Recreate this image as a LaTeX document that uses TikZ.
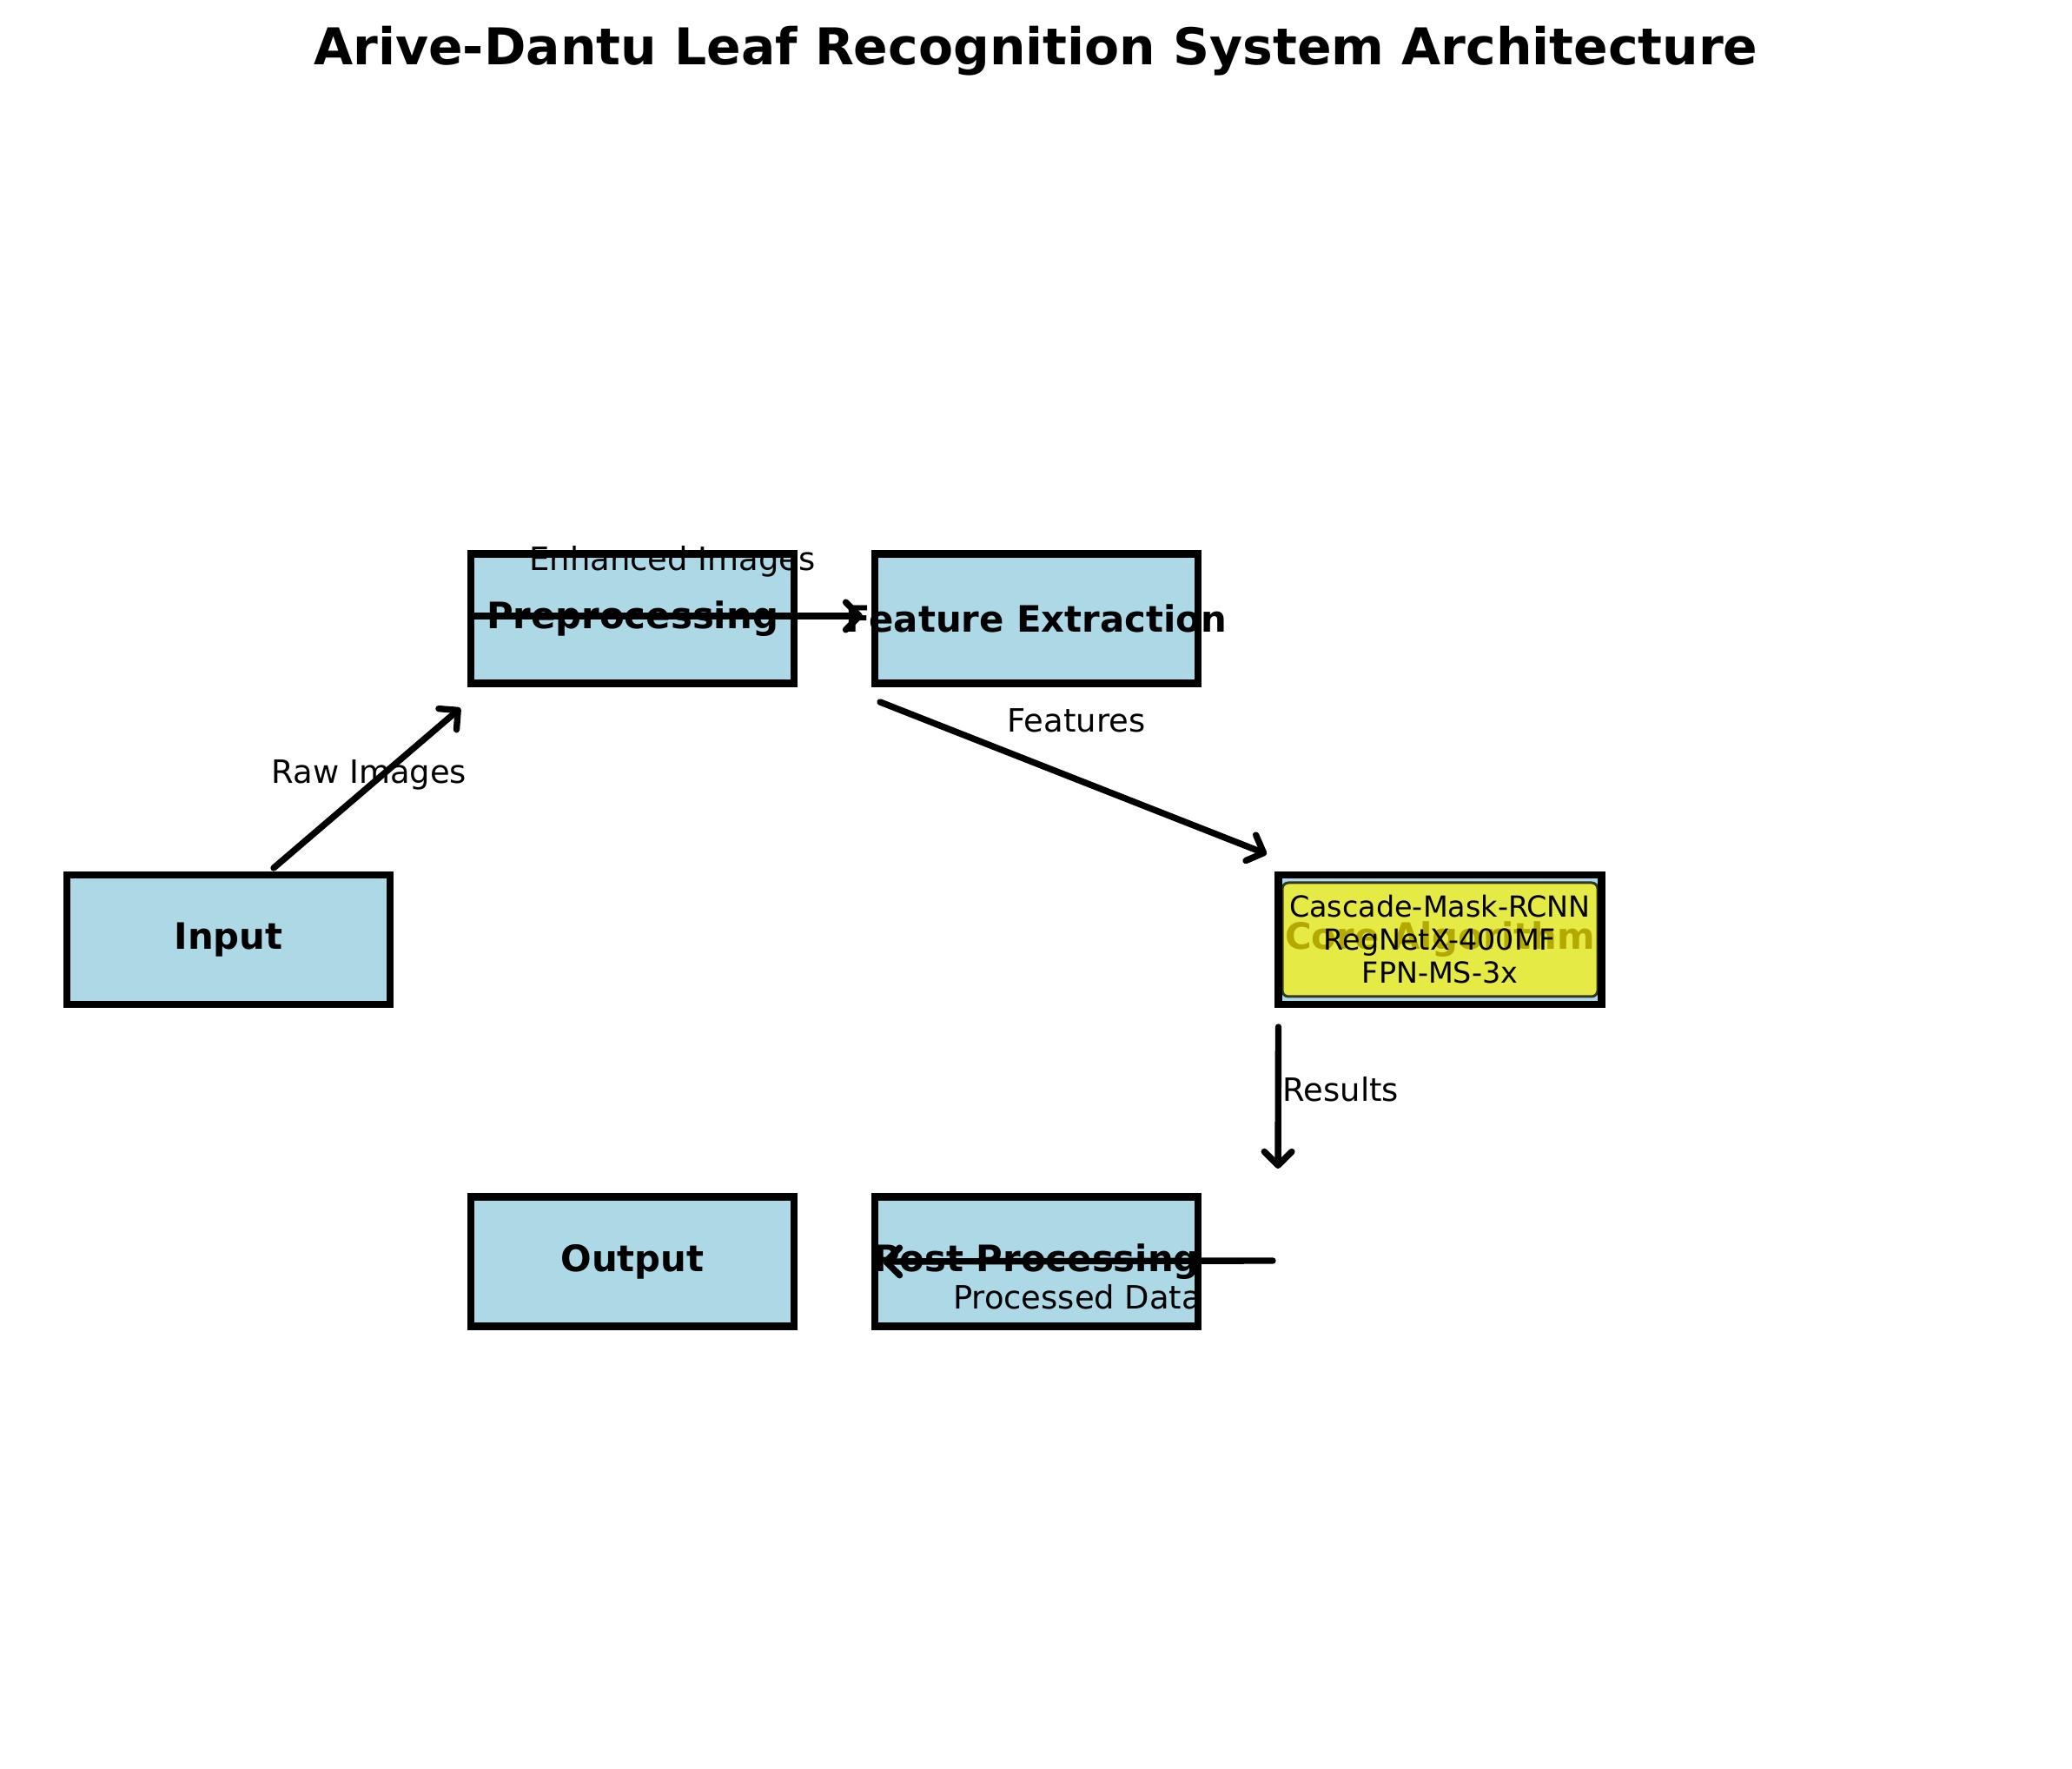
\documentclass[tikz,border=0pt]{standalone}
\usepackage{fontspec}
\setmainfont{DejaVu Sans}
\usepackage{tikz}
\usetikzlibrary{arrows.meta}
\definecolor{stageblue}{RGB}{173,216,230}

\begin{document}
\begin{tikzpicture}[>={Straight Barb[length=4.5pt,width=9pt,line cap=round,line join=round]},
    stage/.style={draw=black, line width=2.3pt, fill=stageblue, minimum width=3.72cm, minimum height=1.49cm, inner xsep=-0.5cm, inner ysep=0pt, outer sep=0pt, font=\fontsize{11.9}{14}\selectfont\bfseries},
    model/.style={fill=yellow, fill opacity=0.7, text opacity=1, draw=black, draw opacity=0.75, line width=0.85pt, rounded corners=0.07cm, minimum width=3.63cm, minimum height=1.31cm, inner sep=0pt, align=center, font=\fontsize{9.5}{10.8}\selectfont},
    flow/.style={->, line width=2.1pt, line cap=round},
    flowlabel/.style={inner sep=0pt, anchor=base, font=\fontsize{10.5}{12}\selectfont}]
    \useasboundingbox (0,0) rectangle (23.85,20.36);
    \node[anchor=base, inner sep=0pt, font=\fontsize{16.6}{20}\selectfont\bfseries] (title) at (11.925,19.61) {Arive-Dantu Leaf Recognition System Architecture};
    \node[stage] (input) at (2.63,9.545) {Input};
    \node[stage] (pre) at (7.28,13.24) {Preprocessing};
    \node[stage] (feat) at (11.93,13.24) {Feature Extraction};
    \node[stage] (core) at (16.575,9.545) {Core Algorithm};
    \node[model] (model) at (core.center) {Cascade-Mask-RCNN\\RegNetX-400MF\\FPN-MS-3x};
    \node[stage] (post) at (11.93,5.84) {Post Processing};
    \node[stage] (output) at (7.28,5.84) {Output};
    \coordinate (res) at (14.71,6.91);
    \coordinate (proc) at (14.65,5.85);
    \node[flowlabel] (rawlbl) at (4.25,11.34) {Raw Images};
    \node[flowlabel] (enhlbl) at (7.74,13.79) {Enhanced Images};
    \node[flowlabel] (featlbl) at (12.39,11.93) {Features};
    \node[flowlabel, anchor=base west] (reslbl) at (14.76,7.68) {Results};
    \node[flowlabel] (proclbl) at (12.40,5.29) {Processed Data};
    \draw[flow] ([shift={(0.52,0.08)}]input.north) -- ([shift={(-0.12,-0.285)}]pre.south west);
    \draw[flow] ([yshift=0.03cm]pre.west) -- ([shift={(-0.14,0.03)}]feat.west);
    \draw[flow] ([shift={(0.06,-0.215)}]feat.south west) -- ([shift={(-0.135,0.24)}]core.north west);
    \draw[flow] ([yshift=-0.26cm]core.south west) -- (res);
    \draw[flow] (proc) -- ([xshift=0.09cm]post.west);
\end{tikzpicture}
\end{document}
